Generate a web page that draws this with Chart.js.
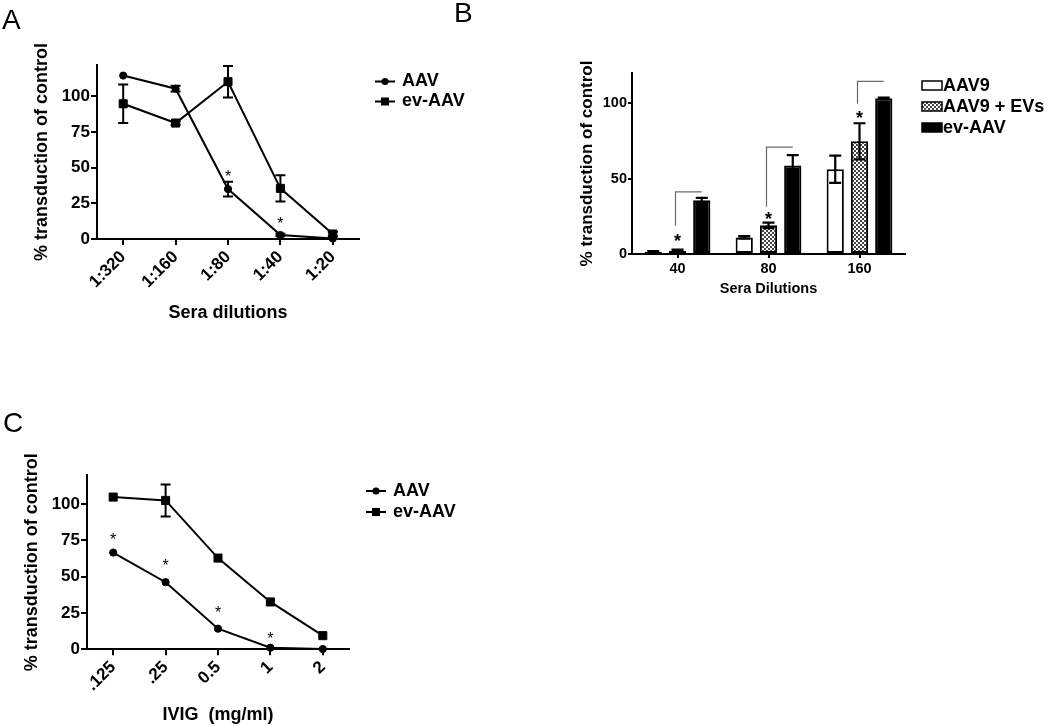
<!DOCTYPE html>
<html><head><meta charset="utf-8">
<script src="https://cdn.jsdelivr.net/npm/chart.js@4.4.1/dist/chart.umd.min.js"></script>
<style>
html,body{margin:0;padding:0;background:#fff;width:1050px;height:726px;overflow:hidden;}
.box{position:absolute;}
.lab{position:absolute;font-family:"Liberation Sans",Arial,sans-serif;font-size:28px;line-height:28px;color:#000;z-index:2;}
</style></head><body>
<div class="box" style="left:0;top:0;width:520px;height:340px"><canvas id="cA"></canvas></div>
<div class="box" style="left:440px;top:0;width:610px;height:320px"><canvas id="cB"></canvas></div>
<div class="box" style="left:0;top:380px;width:520px;height:346px"><canvas id="cC"></canvas></div>
<div class="lab" style="left:2px;top:6px">A</div>
<div class="lab" style="left:454px;top:-1px">B</div>
<div class="lab" style="left:3px;top:409px">C</div>
<script>
// ---------- Panel A data ----------
const dilutionsA = ['1:320', '1:160', '1:80', '1:40', '1:20'];
const aavA = [114.6, 105.4, 35, 2.8, 0.3];
const aavErrA = [0, 2, 5.2, 0.8, 0];
const evA = [94.8, 81.3, 110.3, 35.5, 3.5];
const evErrA = [13.5, 1.2, 11, 9.2, 1.5];
const starsA = [null, null, 46.5, 13, null];

// ---------- Panel B data ----------
const dilutionsB = ['40', '80', '160'];
const aav9B = [1.5, 11, 56.2];
const aav9ErrB = [0.5, 0.8, 9];
const aav9evB = [2.2, 19, 74.7];
const aav9evErrB = [0.7, 1.8, 12];
const evB = [35.7, 58.6, 103.3];
const evErrB = [1.5, 7, 0.4];
const starsB = [11.4, 25.8, 93];
const bracketLowB = [18.7, 31.3, 99.6];
const bracketHighB = [41.2, 70.9, 114.5];

// ---------- Panel C data ----------
const doseC = ['.125', '.25', '0.5', '1', '2'];
const aavC = [66.6, 46.2, 14.2, 1.1, 0.2];
const aavErrC = [0, 0, 0, 0, 0];
const evC = [104.8, 102.5, 62.8, 32.6, 9.4];
const evErrC = [0, 11, 0, 0, 0];
const starsC = [78, 60, 28, 10, null];

const FAM = '"Liberation Sans", Arial, Helvetica, sans-serif';
Chart.defaults.font.family = FAM;
Chart.defaults.color = '#000';

// error bar plugin
const errorBars = {
  id: 'errorBars',
  afterDatasetsDraw(chart, args, opts) {
    const ctx = chart.ctx, ys = chart.scales.y;
    const cap = (opts && opts.cap) || 5;
    ctx.save();
    ctx.strokeStyle = '#000';
    ctx.lineWidth = (opts && opts.width) || 2;
    chart.data.datasets.forEach((ds, i) => {
      if (!ds.errors) return;
      const meta = chart.getDatasetMeta(i);
      meta.data.forEach((el, j) => {
        const e = ds.errors[j];
        if (!e) return;
        const v = ds.data[j];
        const yt = ys.getPixelForValue(v + e), yb = ys.getPixelForValue(v - e);
        const x = el.x;
        ctx.beginPath();
        ctx.moveTo(x, yt); ctx.lineTo(x, yb);
        ctx.moveTo(x - cap, yt); ctx.lineTo(x + cap, yt);
        ctx.moveTo(x - cap, yb); ctx.lineTo(x + cap, yb);
        ctx.stroke();
      });
    });
    ctx.restore();
  }
};

// asterisk plugin
const stars = {
  id: 'stars',
  afterDatasetsDraw(chart, args, opts) {
    if (!opts || !opts.values) return;
    const ctx = chart.ctx, ys = chart.scales.y;
    const meta = chart.getDatasetMeta(opts.dataset || 0);
    ctx.save();
    ctx.font = opts.font;
    ctx.fillStyle = '#000';
    ctx.textAlign = 'center';
    ctx.textBaseline = 'alphabetic';
    opts.values.forEach((v, j) => {
      if (v === null || v === undefined) return;
      const x = meta.data[j].x;
      const y = ys.getPixelForValue(v) + opts.shift;
      ctx.fillText('*', x, y);
    });
    ctx.restore();
  }
};

// bracket plugin (panel B)
const brackets = {
  id: 'brackets',
  afterDatasetsDraw(chart, args, opts) {
    if (!opts || !opts.low) return;
    const ctx = chart.ctx, ys = chart.scales.y;
    const m1 = chart.getDatasetMeta(opts.from), m2 = chart.getDatasetMeta(opts.to);
    ctx.save();
    ctx.strokeStyle = '#6a6a6a';
    ctx.lineWidth = 1.2;
    opts.low.forEach((lo, j) => {
      const xs = m1.data[j].x - 2, xe = m2.data[j].x;
      const yl = ys.getPixelForValue(lo), yh = ys.getPixelForValue(opts.high[j]);
      ctx.beginPath();
      ctx.moveTo(xs, yl); ctx.lineTo(xs, yh); ctx.lineTo(xe, yh);
      ctx.stroke();
    });
    ctx.restore();
  }
};

// custom legend plugin
const customLegend = {
  id: 'customLegend',
  afterDraw(chart, args, opts) {
    if (!opts || !opts.x) return;
    const ctx = chart.ctx;
    ctx.save();
    ctx.font = opts.font;
    ctx.textBaseline = 'middle';
    ctx.textAlign = 'left';
    chart.data.datasets.forEach((ds, i) => {
      const y = opts.y + i * opts.dy;
      const x = opts.x;
      ctx.strokeStyle = '#000';
      ctx.fillStyle = '#000';
      if (opts.kind === 'line') {
        ctx.lineWidth = 2;
        ctx.beginPath(); ctx.moveTo(x, y); ctx.lineTo(x + opts.symW, y); ctx.stroke();
        const cx = x + opts.symW / 2;
        if (ds.pointStyle === 'rect') {
          ctx.fillRect(cx - 4, y - 4, 8, 8);
        } else {
          ctx.beginPath(); ctx.arc(cx, y, 3.6, 0, Math.PI * 2); ctx.fill();
        }
      } else {
        ctx.fillStyle = ds.backgroundColor;
        ctx.fillRect(x, y - opts.boxH / 2, opts.symW, opts.boxH);
        ctx.lineWidth = 1.5;
        ctx.strokeRect(x, y - opts.boxH / 2, opts.symW, opts.boxH);
      }
      ctx.fillStyle = '#000';
      ctx.fillText(ds.label, x + opts.textDx, y + (opts.textDy || 0));
    });
    ctx.restore();
  }
};

function lineDs(label, data, errors, style) {
  return {
    label, data, errors,
    borderColor: '#000', backgroundColor: '#000', borderWidth: 2,
    pointStyle: style, pointRadius: style === 'rect' ? 5.7 : 3.6,
    pointBackgroundColor: '#000', pointBorderColor: '#000', pointBorderWidth: 1,
    tension: 0, fill: false, clip: false
  };
}

function axisGrid(len) {
  return { display: true, drawOnChartArea: false, drawTicks: true, tickLength: len, color: '#000', lineWidth: 2, offset: false };
}

function lineOptions(cfg) {
  return {
    responsive: true, maintainAspectRatio: false, animation: false,
    layout: { padding: cfg.padding },
    plugins: {
      legend: { display: false }, tooltip: { enabled: false },
      errorBars: { cap: 5, width: 2 },
      stars: { values: cfg.stars, dataset: 0, font: '16px ' + FAM, shift: 9 },
      customLegend: cfg.legend
    },
    scales: {
      x: {
        type: 'category', offset: true,
        grid: axisGrid(6),
        border: { display: true, color: '#000', width: 2 },
        ticks: { font: { size: 17, weight: 'bold' }, color: '#000', maxRotation: 45, minRotation: 45, autoSkip: false, padding: 2 },
        title: { display: true, text: cfg.xTitle, color: '#000', font: { size: 18, weight: 'bold' }, padding: { top: 0, bottom: cfg.xTitlePad } },
        afterFit(s) { s.height = cfg.xH; }
      },
      y: {
        min: 0, max: cfg.yMax,
        grid: axisGrid(6),
        border: { display: true, color: '#000', width: 2 },
        ticks: { stepSize: 25, includeBounds: false, font: { size: 17, weight: 'bold' }, color: '#000', padding: 1 },
        title: { display: true, text: '% transduction of control', color: '#000', font: { size: 18, weight: 'bold' }, padding: { top: cfg.yTitlePad, bottom: 0 } },
        afterFit(s) { s.width = cfg.yW; }
      }
    }
  };
}

// ---------- Chart A ----------
new Chart(document.getElementById('cA'), {
  type: 'line',
  data: { labels: dilutionsA, datasets: [lineDs('AAV', aavA, aavErrA, 'circle'), lineDs('ev-AAV', evA, evErrA, 'rect')] },
  options: lineOptions({
    padding: { left: 0, top: 65, right: 161, bottom: 0 },
    stars: starsA, xTitle: 'Sera dilutions', xTitlePad: 16, xH: 101, yMax: 122, yTitlePad: 31, yW: 97,
    legend: { kind: 'line', x: 375, y: 81.5, dy: 20, symW: 20, textDx: 27, font: 'bold 18px ' + FAM }
  }),
  plugins: [errorBars, stars, customLegend]
});

// ---------- Chart C ----------
new Chart(document.getElementById('cC'), {
  type: 'line',
  data: { labels: doseC, datasets: [lineDs('AAV', aavC, aavErrC, 'circle'), lineDs('ev-AAV', evC, evErrC, 'rect')] },
  options: lineOptions({
    padding: { left: 0, top: 95, right: 171, bottom: 0 },
    stars: starsC, xTitle: 'IVIG  (mg/ml)', xTitlePad: 0, xH: 76.7, yMax: 120, yTitlePad: 21, yW: 87,
    legend: { kind: 'line', x: 366, y: 111, dy: 21, symW: 20, textDx: 27, font: 'bold 18px ' + FAM }
  }),
  plugins: [errorBars, stars, customLegend]
});

// ---------- Chart B ----------
function makePattern() {
  const c = document.createElement('canvas');
  c.width = 4; c.height = 4;
  const g = c.getContext('2d');
  g.fillStyle = '#fff'; g.fillRect(0, 0, 4, 4);
  g.fillStyle = '#444';
  g.fillRect(0, 0, 2, 2); g.fillRect(2, 2, 2, 2);
  return g.createPattern(c, 'repeat');
}
const hatch = makePattern();

new Chart(document.getElementById('cB'), {
  type: 'bar',
  data: {
    labels: dilutionsB,
    datasets: [
      { label: 'AAV9', data: aav9B, errors: aav9ErrB, backgroundColor: '#fff', borderColor: '#000', borderWidth: 2, borderSkipped: false },
      { label: 'AAV9 + EVs', data: aav9evB, errors: aav9evErrB, backgroundColor: hatch, borderColor: '#000', borderWidth: 2, borderSkipped: false },
      { label: 'ev-AAV', data: evB, errors: evErrB, backgroundColor: '#000', borderColor: '#000', borderWidth: 2, borderSkipped: false }
    ]
  },
  options: {
    responsive: true, maintainAspectRatio: false, animation: false,
    datasets: { bar: { categoryPercentage: 0.8, barPercentage: 0.71 } },
    layout: { padding: { left: 0, top: 73, right: 145, bottom: 0 } },
    plugins: {
      legend: { display: false }, tooltip: { enabled: false },
      errorBars: { cap: 6, width: 2.2 },
      stars: { values: starsB, dataset: 1, font: 'bold 18px ' + FAM, shift: 10 },
      brackets: { low: bracketLowB, high: bracketHighB, from: 1, to: 2 },
      customLegend: { kind: 'box', x: 482, y: 85.5, dy: 21, symW: 20, boxH: 9, textDx: 21, textDy: 1, font: 'bold 18px ' + FAM }
    },
    scales: {
      x: {
        grid: axisGrid(4),
        border: { display: true, color: '#000', width: 2 },
        ticks: { font: { size: 14.5, weight: 'bold' }, color: '#000', maxRotation: 0, padding: 2 },
        title: { display: true, text: 'Sera Dilutions', color: '#000', font: { size: 14.5, weight: 'bold' }, padding: { top: 0, bottom: 22 } },
        afterFit(s) { s.height = 66; }
      },
      y: {
        min: 0, max: 120,
        grid: axisGrid(4),
        border: { display: true, color: '#000', width: 2 },
        ticks: { stepSize: 50, includeBounds: false, font: { size: 14.5, weight: 'bold' }, color: '#000', padding: 1 },
        title: { display: true, text: '% transduction of control', color: '#000', font: { size: 17, weight: 'bold' }, padding: { top: 137, bottom: 0 } },
        afterFit(s) { s.width = 192; }
      }
    }
  },
  plugins: [errorBars, brackets, stars, customLegend]
});
</script>
</body></html>
